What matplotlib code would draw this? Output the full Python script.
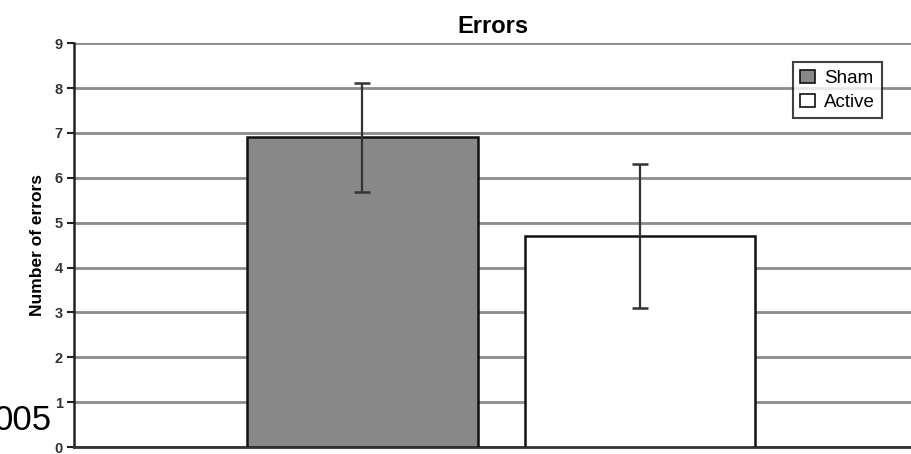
import numpy as np
import matplotlib
matplotlib.use('Agg')
import matplotlib.pyplot as plt
from matplotlib.patches import Patch

plt.rcParams['font.family'] = ['Liberation Sans', 'DejaVu Sans']

groups = ['Sham', 'Active']
means = [6.9, 4.7]
errs = [1.22, 1.6]
colors = ['#888888', '#ffffff']
yticks = [0, 1, 2, 3, 4, 5, 6, 7, 8, 9]

fig = plt.figure(figsize=(9.12, 4.54), dpi=100)
ax = fig.add_axes([0.081, 0.0154, 0.919, 0.8896])

x = np.arange(len(groups))
ax.bar(x, means, width=0.83, color=colors, edgecolor='#111111', linewidth=1.8, zorder=3)
ax.errorbar(x, means, yerr=errs, fmt='none', ecolor='#333333', elinewidth=1.6,
            capsize=6, capthick=1.8, zorder=4)

ax.set_xlim(-1.04, 1.98)
ax.set_ylim(0, 9)
ax.set_yticks(yticks)
ax.set_xticks([])
ax.yaxis.grid(True, color='#8c8c8c', linewidth=2.0, zorder=0)
ax.set_axisbelow(True)
for s in ['top', 'right']:
    ax.spines[s].set_visible(False)
ax.spines['left'].set_linewidth(1.8)
ax.spines['left'].set_color('#222222')
ax.spines['bottom'].set_linewidth(2.0)
ax.spines['bottom'].set_color('#333333')
ax.tick_params(axis='y', length=5, width=1.5, labelsize=10.5, pad=3, colors='#222222')
for lbl in ax.get_yticklabels():
    lbl.set_fontweight('bold')
    lbl.set_color('#333333')

ax.set_ylabel('Number of errors', fontsize=12.5, fontweight='bold', labelpad=7)
ax.set_title('Errors', fontsize=17, fontweight='bold', pad=7)

handles = [Patch(facecolor=c, edgecolor='#111111', linewidth=1.2) for c in colors]
leg = ax.legend(handles, groups, loc='upper left', bbox_to_anchor=(0.858, 0.953),
                fontsize=13.5, frameon=True, fancybox=False, handlelength=0.75,
                handleheight=0.75, handletextpad=0.5, borderpad=0.4, labelspacing=0.35,
                borderaxespad=0)
leg.get_frame().set_edgecolor('#111111')
leg.get_frame().set_linewidth(1.5)

fig.text(0.057, 0.053, '005', fontsize=25, ha='right', va='baseline')

fig.savefig('out.png', dpi=100)
